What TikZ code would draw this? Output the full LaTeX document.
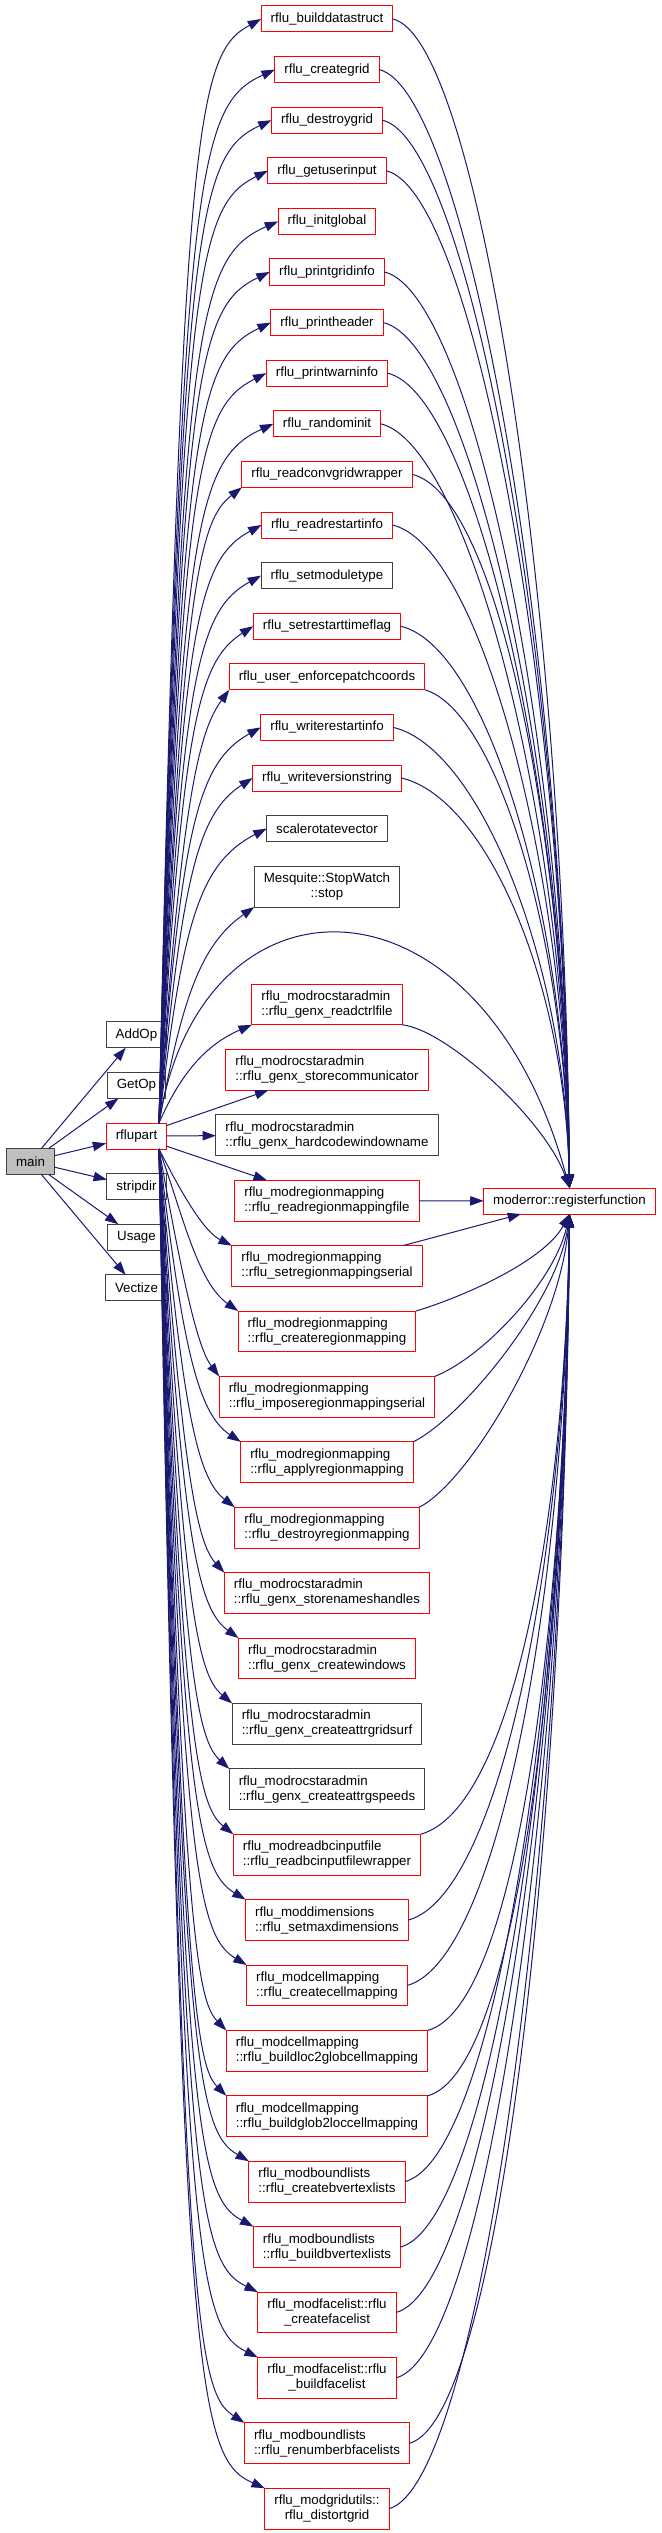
\documentclass[tikz,border=0pt]{standalone}
\usepackage{fontspec}
\setmainfont{Liberation Sans}
\usetikzlibrary{arrows.meta,positioning}
\definecolor{edgeblue}{HTML}{191970}
\definecolor{boxred}{HTML}{FF0000}
\definecolor{boxgray}{HTML}{404040}
\definecolor{mainfill}{HTML}{BFBFBF}
\tikzset{
  call graph/.style={
    x=0.75pt, y=-0.75pt,
    font=\fontsize{10}{11.25}\selectfont,
    line join=round
  },
  funcbox/.style={
    draw,
    line width=0.75pt,
    inner xsep=7.2pt,
    inner ysep=0pt,
    outer sep=0pt,
    minimum height=19.5pt,
    text=black
  },
  redbox/.style={funcbox, draw=boxred},
  plainbox/.style={funcbox, draw=boxgray},
  mainbox/.style={plainbox, fill=mainfill},
  twoline/.style={align=left, minimum height=30.6pt},
  twolinec/.style={align=center, minimum height=30.6pt},
  callarrow/.style={-{Triangle[length=10pt,width=7pt]}, draw=edgeblue, line width=0.75pt}
}
\begin{document}
\begin{tikzpicture}[call graph, node distance=18.45pt]
\useasboundingbox (0,0) rectangle (661,2533);
% callees of rflupart, one column
\node[redbox] (n01) at (327,19) {rflu\_builddatastruct};
\node[redbox, below=of n01] (n02) {rflu\_creategrid};
\node[redbox, below=of n02] (n03) {rflu\_destroygrid};
\node[redbox, below=of n03] (n04) {rflu\_getuserinput};
\node[redbox, below=of n04] (n05) {rflu\_initglobal};
\node[redbox, below=of n05] (n06) {rflu\_printgridinfo};
\node[redbox, below=of n06] (n07) {rflu\_printheader};
\node[redbox, below=of n07] (n08) {rflu\_printwarninfo};
\node[redbox, below=of n08] (n09) {rflu\_randominit};
\node[redbox, below=of n09] (n10) {rflu\_readconvgridwrapper};
\node[redbox, below=of n10] (n11) {rflu\_readrestartinfo};
\node[plainbox, below=of n11] (n12) {rflu\_setmoduletype};
\node[redbox, below=of n12] (n13) {rflu\_setrestarttimeflag};
\node[redbox, below=of n13] (n14) {rflu\_user\_enforcepatchcoords};
\node[redbox, below=of n14] (n15) {rflu\_writerestartinfo};
\node[redbox, below=of n15] (n16) {rflu\_writeversionstring};
\node[plainbox, below=of n16] (n17) {scalerotatevector};
\node[plainbox, twolinec, below=of n17] (n18) {Mesquite::StopWatch\\::stop};
\node[redbox, twoline, below=57.75pt of n18] (n19) {rflu\_modrocstaradmin\\::rflu\_genx\_readctrlfile};
\node[redbox, twoline, below=of n19] (n20) {rflu\_modrocstaradmin\\::rflu\_genx\_storecommunicator};
\node[plainbox, twoline, below=of n20] (n21) {rflu\_modrocstaradmin\\::rflu\_genx\_hardcodewindowname};
\node[redbox, twoline, below=of n21] (n22) {rflu\_modregionmapping\\::rflu\_readregionmappingfile};
\node[redbox, twoline, below=of n22] (n23) {rflu\_modregionmapping\\::rflu\_setregionmappingserial};
\node[redbox, twoline, below=of n23] (n24) {rflu\_modregionmapping\\::rflu\_createregionmapping};
\node[redbox, twoline, below=of n24] (n25) {rflu\_modregionmapping\\::rflu\_imposeregionmappingserial};
\node[redbox, twoline, below=of n25] (n26) {rflu\_modregionmapping\\::rflu\_applyregionmapping};
\node[redbox, twoline, below=of n26] (n27) {rflu\_modregionmapping\\::rflu\_destroyregionmapping};
\node[redbox, twoline, below=of n27] (n28) {rflu\_modrocstaradmin\\::rflu\_genx\_storenameshandles};
\node[redbox, twoline, below=of n28] (n29) {rflu\_modrocstaradmin\\::rflu\_genx\_createwindows};
\node[plainbox, twoline, below=of n29] (n30) {rflu\_modrocstaradmin\\::rflu\_genx\_createattrgridsurf};
\node[plainbox, twoline, below=of n30] (n31) {rflu\_modrocstaradmin\\::rflu\_genx\_createattrgspeeds};
\node[redbox, twoline, below=of n31] (n32) {rflu\_modreadbcinputfile\\::rflu\_readbcinputfilewrapper};
\node[redbox, twoline, below=of n32] (n33) {rflu\_moddimensions\\::rflu\_setmaxdimensions};
\node[redbox, twoline, below=of n33] (n34) {rflu\_modcellmapping\\::rflu\_createcellmapping};
\node[redbox, twoline, below=of n34] (n35) {rflu\_modcellmapping\\::rflu\_buildloc2globcellmapping};
\node[redbox, twoline, below=of n35] (n36) {rflu\_modcellmapping\\::rflu\_buildglob2loccellmapping};
\node[redbox, twoline, below=of n36] (n37) {rflu\_modboundlists\\::rflu\_createbvertexlists};
\node[redbox, twoline, below=of n37] (n38) {rflu\_modboundlists\\::rflu\_buildbvertexlists};
\node[redbox, twolinec, below=of n38] (n39) {rflu\_modfacelist::rflu\\\_createfacelist};
\node[redbox, twolinec, below=of n39] (n40) {rflu\_modfacelist::rflu\\\_buildfacelist};
\node[redbox, twoline, below=of n40] (n41) {rflu\_modboundlists\\::rflu\_renumberbfacelists};
\node[redbox, twolinec, below=of n41] (n42) {rflu\_modgridutils::\\rflu\_distortgrid};
% callees of main
\node[redbox] (rflupart) at (136.5,1136) {rflupart};
\node[plainbox, above=of rflupart] (getop) {GetOp};
\node[plainbox, above=of getop] (addop) {AddOp};
\node[plainbox, below=of rflupart] (stripdir) {stripdir};
\node[plainbox, below=of stripdir] (usage) {Usage};
\node[plainbox, below=of usage] (vectize) {Vectize};
\node[mainbox] (main) at (30.5,1161.5) {main};
\node[redbox] (moderror) at (569.5,1201) {moderror::registerfunction};
% main
\draw[callarrow] (main) -- (addop);
\draw[callarrow] (main) -- (getop);
\draw[callarrow] (main) -- (rflupart);
\draw[callarrow] (main) -- (stripdir);
\draw[callarrow] (main) -- (usage);
\draw[callarrow] (main) -- (vectize);
% rflupart, upwards
\draw[callarrow] (rflupart.30) .. controls (182,119) and (197,54) .. (n01.west);
\draw[callarrow] (rflupart.30) .. controls (182,170) and (197,105) .. (n02.west);
\draw[callarrow] (rflupart.30) .. controls (182,220) and (197,155) .. (n03.west);
\draw[callarrow] (rflupart.30) .. controls (182,271) and (197,206) .. (n04.west);
\draw[callarrow] (rflupart.30) .. controls (182,322) and (197,257) .. (n05.west);
\draw[callarrow] (rflupart.30) .. controls (182,372) and (197,307) .. (n06.west);
\draw[callarrow] (rflupart.30) .. controls (182,423) and (197,358) .. (n07.west);
\draw[callarrow] (rflupart.30) .. controls (182,473) and (197,408) .. (n08.west);
\draw[callarrow] (rflupart.30) .. controls (182,524) and (197,459) .. (n09.west);
\draw[callarrow] (rflupart.30) .. controls (182,580) and (200,520) .. (n10.south west);
\draw[callarrow] (rflupart.30) .. controls (182,625) and (197,560) .. (n11.west);
\draw[callarrow] (rflupart.30) .. controls (182,676) and (197,611) .. (n12.west);
\draw[callarrow] (rflupart.30) .. controls (182,727) and (197,662) .. (n13.west);
\draw[callarrow] (rflupart.30) .. controls (182,790) and (200,730) .. (n14.south west);
\draw[callarrow] (rflupart.30) .. controls (182,828) and (197,763) .. (n15.west);
\draw[callarrow] (rflupart.30) .. controls (182,879) and (197,814) .. (n16.west);
\draw[callarrow] (rflupart.30) .. controls (182,929) and (197,864) .. (n17.west);
\draw[callarrow] (rflupart.30) .. controls (182,1000) and (200,945) .. (n18.south west);
\draw[callarrow] (rflupart.30) .. controls (200,860) and (480,860) .. (moderror.north);
\draw[callarrow] (rflupart.30) .. controls (180,1075) and (205,1045) .. (n19.south west);
\draw[callarrow] (rflupart) -- (n20);
\draw[callarrow] (rflupart) -- (n21);
\draw[callarrow] (rflupart) -- (n22);
% rflupart, downwards
\draw[callarrow] (rflupart.-30) .. controls (185,1200) and (205,1232) .. (n23.north west);
\draw[callarrow] (rflupart.-30) .. controls (182,1212) and (197,1282) .. (n24.north west);
\draw[callarrow] (rflupart.-30) .. controls (182,1277) and (197,1347) .. (n25.north west);
\draw[callarrow] (rflupart.-30) .. controls (182,1343) and (197,1413) .. (n26.north west);
\draw[callarrow] (rflupart.-30) .. controls (182,1408) and (197,1478) .. (n27.north west);
\draw[callarrow] (rflupart.-30) .. controls (182,1473) and (197,1543) .. (n28.north west);
\draw[callarrow] (rflupart.-30) .. controls (182,1538) and (197,1608) .. (n29.north west);
\draw[callarrow] (rflupart.-30) .. controls (182,1604) and (197,1674) .. (n30.north west);
\draw[callarrow] (rflupart.-30) .. controls (182,1669) and (197,1739) .. (n31.north west);
\draw[callarrow] (rflupart.-30) .. controls (182,1735) and (197,1805) .. (n32.north west);
\draw[callarrow] (rflupart.-30) .. controls (182,1800) and (197,1870) .. (n33.north west);
\draw[callarrow] (rflupart.-30) .. controls (182,1865) and (197,1935) .. (n34.north west);
\draw[callarrow] (rflupart.-30) .. controls (182,1930) and (197,2000) .. (n35.north west);
\draw[callarrow] (rflupart.-30) .. controls (182,1996) and (197,2066) .. (n36.north west);
\draw[callarrow] (rflupart.-30) .. controls (182,2061) and (197,2131) .. (n37.north west);
\draw[callarrow] (rflupart.-30) .. controls (182,2126) and (197,2196) .. (n38.north west);
\draw[callarrow] (rflupart.-30) .. controls (182,2192) and (197,2262) .. (n39.north west);
\draw[callarrow] (rflupart.-30) .. controls (182,2257) and (197,2327) .. (n40.north west);
\draw[callarrow] (rflupart.-30) .. controls (182,2322) and (197,2392) .. (n41.north west);
\draw[callarrow] (rflupart.-30) .. controls (182,2388) and (197,2458) .. (n42.north west);
% into moderror from above
\draw[callarrow] (n01.east) .. controls +(85,20) and (565,604) .. (moderror.north);
\draw[callarrow] (n02.east) .. controls +(85,20) and (565,629) .. (moderror.north);
\draw[callarrow] (n03.east) .. controls +(85,20) and (565,654) .. (moderror.north);
\draw[callarrow] (n04.east) .. controls +(85,20) and (565,679) .. (moderror.north);
\draw[callarrow] (n06.east) .. controls +(85,20) and (565,730) .. (moderror.north);
\draw[callarrow] (n07.east) .. controls +(85,20) and (565,755) .. (moderror.north);
\draw[callarrow] (n08.east) .. controls +(85,20) and (565,780) .. (moderror.north);
\draw[callarrow] (n09.east) .. controls +(85,20) and (565,806) .. (moderror.north);
\draw[callarrow] (n10.east) .. controls +(85,20) and (565,831) .. (moderror.north);
\draw[callarrow] (n11.east) .. controls +(85,20) and (565,856) .. (moderror.north);
\draw[callarrow] (n13.east) .. controls +(85,20) and (565,907) .. (moderror.north);
\draw[callarrow] (n14.south east) .. controls +(70,20) and (565,932) .. (moderror.north);
\draw[callarrow] (n15.east) .. controls +(85,20) and (565,958) .. (moderror.north);
\draw[callarrow] (n16.east) .. controls +(85,20) and (565,983) .. (moderror.north);
\draw[callarrow] (n19.south east) .. controls +(45,5) and (545,1120) .. (moderror.north);
\draw[callarrow] (n22) -- (moderror);
\draw[callarrow] (n23) -- (moderror);
% into moderror from below
\draw[callarrow] (n24.north east) .. controls +(50,-15) and (545,1260) .. (moderror.south);
\draw[callarrow] (n25.north east) .. controls +(50,-20) and (555,1280) .. (moderror.south);
\draw[callarrow] (n26.north east) .. controls +(50,-25) and (558,1300) .. (moderror.south);
\draw[callarrow] (n27.north east) .. controls +(50,-25) and (560,1330) .. (moderror.south);
\draw[callarrow] (n32.north east) .. controls +(90,-25) and (565,1525) .. (moderror.south);
\draw[callarrow] (n33.east) .. controls +(90,-25) and (565,1567) .. (moderror.south);
\draw[callarrow] (n34.east) .. controls +(90,-25) and (565,1600) .. (moderror.south);
\draw[callarrow] (n35.north east) .. controls +(90,-25) and (565,1622) .. (moderror.south);
\draw[callarrow] (n36.north east) .. controls +(90,-25) and (565,1655) .. (moderror.south);
\draw[callarrow] (n37.east) .. controls +(90,-25) and (565,1698) .. (moderror.south);
\draw[callarrow] (n38.east) .. controls +(90,-25) and (565,1730) .. (moderror.south);
\draw[callarrow] (n39.east) .. controls +(90,-25) and (565,1763) .. (moderror.south);
\draw[callarrow] (n40.east) .. controls +(90,-25) and (565,1796) .. (moderror.south);
\draw[callarrow] (n41.east) .. controls +(90,-25) and (565,1828) .. (moderror.south);
\draw[callarrow] (n42.east) .. controls +(90,-25) and (565,1861) .. (moderror.south);
\end{tikzpicture}
\end{document}
